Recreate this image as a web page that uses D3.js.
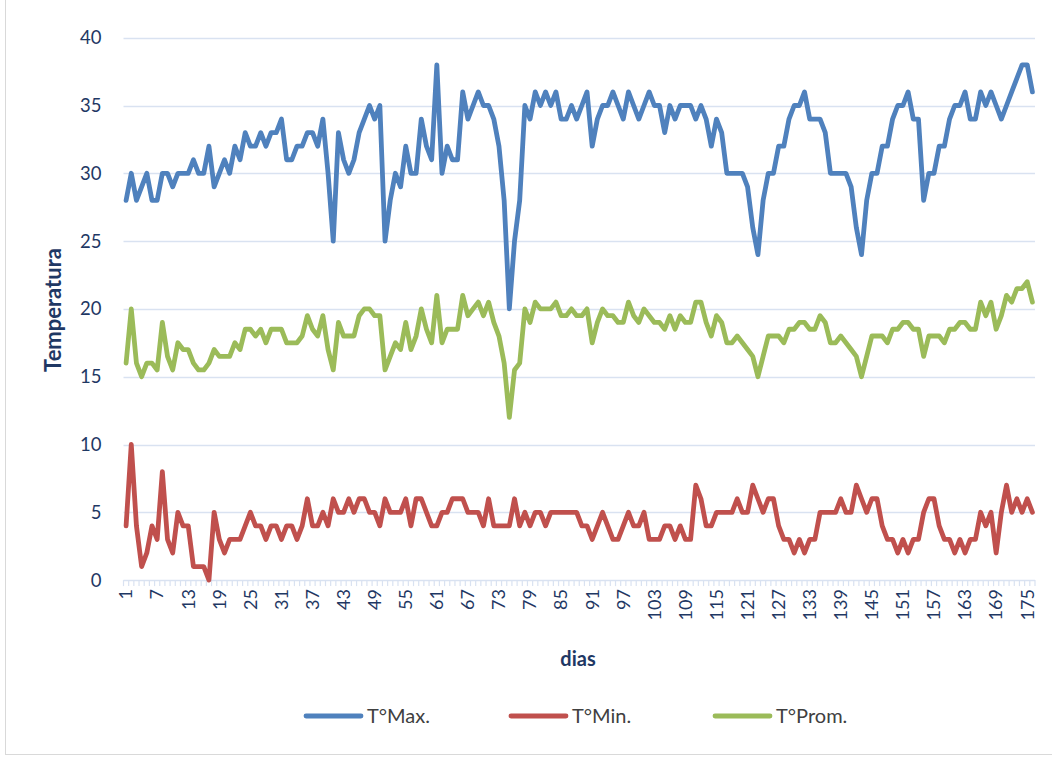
<!DOCTYPE html>
<html><head><meta charset="utf-8">
<script src="https://cdn.jsdelivr.net/npm/d3@7/dist/d3.min.js"></script>
<style>
body{margin:0;background:#fff}
svg{display:block}
text{font-family:Lato,"Open Sans",sans-serif}
</style>
</head><body>
<svg id="chart" width="1052" height="758"></svg>
<script>
const days = d3.range(1, 177);
const tMax = [
28,30,28,29,30,28,28,30,30,29,
30,30,30,31,30,30,32,29,30,31,
30,32,31,33,32,32,33,32,33,33,
34,31,31,32,32,33,33,32,34,30,
25,33,31,30,31,33,34,35,34,35,
25,28,30,29,32,30,30,34,32,31,
38,30,32,31,31,36,34,35,36,35,
35,34,32,28,20,25,28,35,34,36,
35,36,35,36,34,34,35,34,35,36,
32,34,35,35,36,35,34,36,35,34,
35,36,35,35,33,35,34,35,35,35,
34,35,34,32,34,33,30,30,30,30,
29,26,24,28,30,30,32,32,34,35,
35,36,34,34,34,33,30,30,30,30,
29,26,24,28,30,30,32,32,34,35,
35,36,34,34,28,30,30,32,32,34,
35,35,36,34,34,36,35,36,35,34,
35,36,37,38,38,36];
const tMin = [
4,10,4,1,2,4,3,8,3,2,
5,4,4,1,1,1,0,5,3,2,
3,3,3,4,5,4,4,3,4,4,
3,4,4,3,4,6,4,4,5,4,
6,5,5,6,5,6,6,5,5,4,
6,5,5,5,6,4,6,6,5,4,
4,5,5,6,6,6,5,5,5,4,
6,4,4,4,4,6,4,5,4,5,
5,4,5,5,5,5,5,5,4,4,
3,4,5,4,3,3,4,5,4,4,
5,3,3,3,4,4,3,4,3,3,
7,6,4,4,5,5,5,5,6,5,
5,7,6,5,6,6,4,3,3,2,
3,2,3,3,5,5,5,5,6,5,
5,7,6,5,6,6,4,3,3,2,
3,2,3,3,5,6,6,4,3,3,
2,3,2,3,3,5,4,5,2,5,
7,5,6,5,6,5];
const tProm = [
16,20,16,15,16,16,15.5,19,16.5,15.5,
17.5,17,17,16,15.5,15.5,16,17,16.5,16.5,
16.5,17.5,17,18.5,18.5,18,18.5,17.5,18.5,18.5,
18.5,17.5,17.5,17.5,18,19.5,18.5,18,19.5,17,
15.5,19,18,18,18,19.5,20,20,19.5,19.5,
15.5,16.5,17.5,17,19,17,18,20,18.5,17.5,
21,17.5,18.5,18.5,18.5,21,19.5,20,20.5,19.5,
20.5,19,18,16,12,15.5,16,20,19,20.5,
20,20,20,20.5,19.5,19.5,20,19.5,19.5,20,
17.5,19,20,19.5,19.5,19,19,20.5,19.5,19,
20,19.5,19,19,18.5,19.5,18.5,19.5,19,19,
20.5,20.5,19,18,19.5,19,17.5,17.5,18,17.5,
17,16.5,15,16.5,18,18,18,17.5,18.5,18.5,
19,19,18.5,18.5,19.5,19,17.5,17.5,18,17.5,
17,16.5,15,16.5,18,18,18,17.5,18.5,18.5,
19,19,18.5,18.5,16.5,18,18,18,17.5,18.5,
18.5,19,19,18.5,18.5,20.5,19.5,20.5,18.5,19.5,
21,20.5,21.5,21.5,22,20.5];
const yTicks = [0,5,10,15,20,25,30,35,40];
const xTickLabels = days.filter(d => (d - 1) % 6 === 0);
const seriesNames = ["T°Max.", "T°Min.", "T°Prom."];
const seriesColors = ["#4F81BD", "#C0504D", "#9BBB59"];
const yTitle = "Temperatura";
const xTitle = "dias";

const svg = d3.select("#chart");
const plotL = 123.5, plotR = 1035, plotT = 37.7, plotB = 580.1;
const textColor = "#1F3864";
const gridColor = "#D9E2F1";

// chart border
svg.append("rect").attr("x", 5.5).attr("y", -2).attr("width", 1060).attr("height", 756.5)
  .attr("fill", "none").attr("stroke", "#D9D9D9").attr("stroke-width", 1);

const x = d3.scaleBand().domain(days).range([plotL, plotR]).padding(0);
const y = d3.scaleLinear().domain([0, 40]).range([plotB, plotT]);
const cx = d => x(d) + x.bandwidth() / 2;

// gridlines
svg.append("g").selectAll("line").data(yTicks).join("line")
  .attr("x1", plotL).attr("x2", plotR)
  .attr("y1", d => Math.round(y(d)) + 0.5).attr("y2", d => Math.round(y(d)) + 0.5)
  .attr("stroke", gridColor).attr("stroke-width", 1.5);

// category tick marks
const bounds = days.map(d => x(d)).concat([x.range()[1]]);
svg.append("g").selectAll("line").data(bounds).join("line")
  .attr("x1", d => d).attr("x2", d => d)
  .attr("y1", plotB).attr("y2", plotB + 6)
  .attr("stroke", gridColor).attr("stroke-width", 1.2);

// y axis
const yAxis = svg.append("g").attr("transform", `translate(${plotL},0)`)
  .call(d3.axisLeft(y).tickValues(yTicks).tickSize(0).tickPadding(22));
yAxis.select(".domain").remove();
yAxis.selectAll("text").attr("fill", textColor).style("font-size", "18.5px").attr("font-family", "Lato");

// x axis
const xAxis = svg.append("g").attr("transform", `translate(0,${plotB})`)
  .call(d3.axisBottom(x).tickValues(xTickLabels).tickSize(0));
xAxis.select(".domain").remove();
xAxis.selectAll("text")
  .attr("transform", "rotate(-90)")
  .attr("x", -9).attr("y", 0).attr("dy", "0.35em")
  .style("text-anchor", "end")
  .attr("fill", textColor).style("font-size", "18px").attr("font-family", "Lato");

// lines
const series = [tMax, tMin, tProm];
const line = d3.line().x((v, i) => cx(days[i])).y(v => y(v));
series.forEach((s, k) => {
  svg.append("path").datum(s).attr("d", line)
    .attr("fill", "none").attr("stroke", seriesColors[k]).attr("stroke-width", 4.8)
    .attr("stroke-linejoin", "round").attr("stroke-linecap", "round");
});

// axis titles
svg.append("text").attr("transform", "translate(61,310) rotate(-90)")
  .attr("text-anchor", "middle").attr("fill", textColor)
  .style("font-size", "22px").style("font-weight", "bold").text(yTitle);
svg.append("text").attr("x", 578).attr("y", 666)
  .attr("text-anchor", "middle").attr("fill", textColor)
  .style("font-size", "20px").style("font-weight", "bold").text(xTitle);

// legend
const legendX = [306, 511, 715];
const lg = svg.append("g");
seriesNames.forEach((n, k) => {
  lg.append("line").attr("x1", legendX[k]).attr("x2", legendX[k] + 55)
    .attr("y1", 716).attr("y2", 716)
    .attr("stroke", seriesColors[k]).attr("stroke-width", 4.8).attr("stroke-linecap", "round");
  lg.append("text").attr("x", legendX[k] + 61).attr("y", 716).attr("dy", "0.35em")
    .attr("fill", "#404040").style("font-size", "20px").text(n);
});
</script>
</body></html>
